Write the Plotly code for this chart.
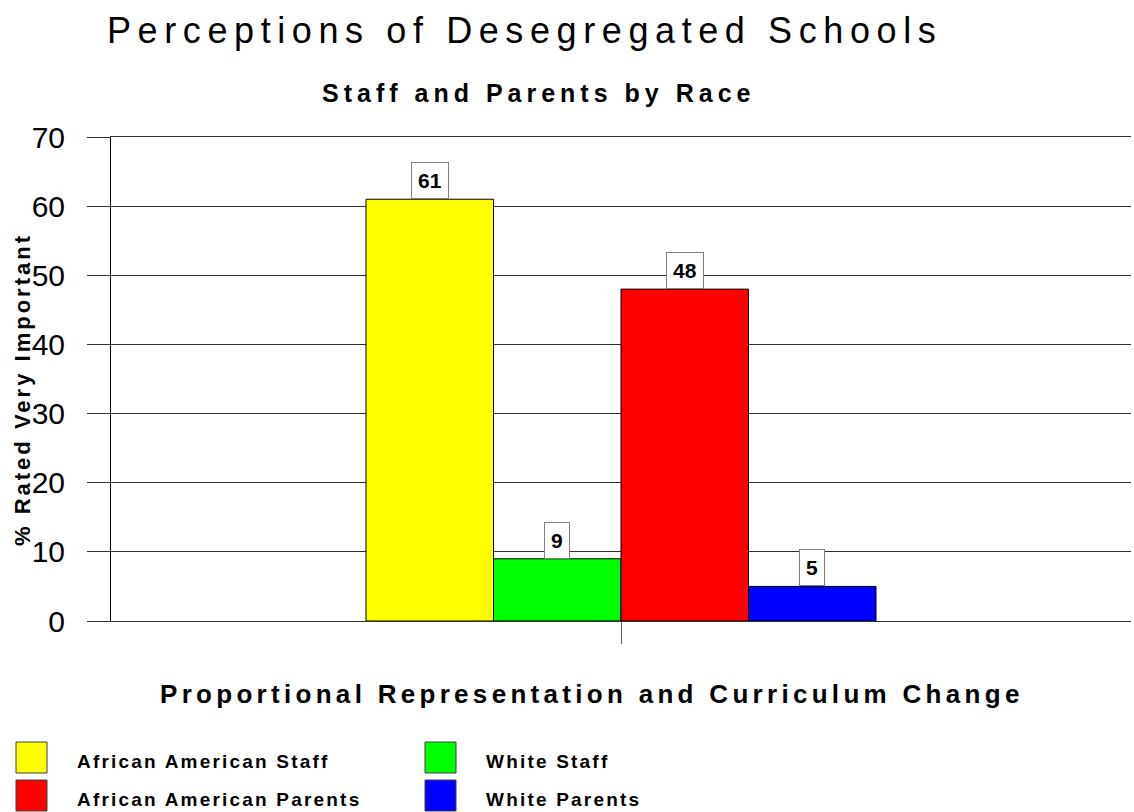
import plotly.graph_objects as go

# ---- data ----
category = ["Proportional Representation and Curriculum Change"]
series_names = ["African American Staff", "White Staff", "African American Parents", "White Parents"]
series_values = [61, 9, 48, 5]
series_colors = ["#FFFF00", "#00FF00", "#FF0000", "#0000FF"]
y_ticks = [0, 10, 20, 30, 40, 50, 60, 70]
title_text = "Perceptions of Desegregated Schools"
subtitle_text = "Staff and Parents by Race"
y_title = "% Rated Very Important"

FONT = "Liberation Sans, Arial, sans-serif"
W, H = 1134, 812
L, R, T, B = 111, 3, 137, 191
PW = W - L - R
PH = H - T - B
BARGAP = 0.5


def px(xp):
    return (xp - L) / PW


def py(yp):
    return (H - B - yp) / PH


def spaced(text, ls):
    return f'<span style="letter-spacing:{ls}px">{text}</span>'


fig = go.Figure()
for name, val, col in zip(series_names, series_values, series_colors):
    fig.add_trace(go.Bar(
        x=category, y=[val], name=name,
        marker=dict(color=col, line=dict(color="#000000", width=1)),
        showlegend=False,
    ))

annotations = []
n = len(series_names)
bw = (1 - BARGAP) / n
for i, val in enumerate(series_values):
    xc = -(1 - BARGAP) / 2 + bw * (i + 0.5)
    annotations.append(dict(
        x=xc, y=val, xref="x", yref="y", text=f"<b>{val}</b>",
        showarrow=False, yanchor="bottom", xanchor="center",
        font=dict(family=FONT, size=21, color="#000000"),
        bgcolor="#FFFFFF", bordercolor="#808080", borderwidth=1, borderpad=6,
    ))

# titles
annotations.append(dict(
    x=px(524), y=py(30), xref="paper", yref="paper", showarrow=False,
    text=spaced(title_text, 6.6), xanchor="center", yanchor="middle",
    font=dict(family=FONT, size=36, color="#000000"),
))
annotations.append(dict(
    x=px(538), y=py(93), xref="paper", yref="paper", showarrow=False,
    text="<b>" + spaced(subtitle_text, 5) + "</b>", xanchor="center", yanchor="middle",
    font=dict(family=FONT, size=25, color="#000000"),
))
annotations.append(dict(
    x=px(592), y=py(694), xref="paper", yref="paper", showarrow=False,
    text="<b>" + spaced(category[0], 4.3) + "</b>", xanchor="center", yanchor="middle",
    font=dict(family=FONT, size=26, color="#000000"),
))
annotations.append(dict(
    x=px(22), y=py(390), xref="paper", yref="paper", showarrow=False,
    text="<b>" + spaced(y_title, 3) + "</b>", xanchor="center", yanchor="middle",
    textangle=-90,
    font=dict(family=FONT, size=22, color="#000000"),
))

# legend (2 columns x 2 rows)
shapes = []
leg_cols = [16, 425]
leg_rows = [742, 780]
for i, (name, col) in enumerate(zip(series_names, series_colors)):
    cx = leg_cols[i % 2]
    ry = leg_rows[i // 2]
    shapes.append(dict(
        type="rect", xref="paper", yref="paper",
        x0=px(cx), x1=px(cx + 31), y0=py(ry + 31), y1=py(ry),
        fillcolor=col, line=dict(color="#404040", width=1),
    ))
    annotations.append(dict(
        x=px(cx + 59), y=py(ry + 19), xref="paper", yref="paper", showarrow=False,
        text="<b>" + spaced(name, 2.2) + "</b>", xanchor="left", yanchor="middle",
        font=dict(family=FONT, size=19, color="#000000"),
    ))

fig.update_layout(
    width=W, height=H,
    margin=dict(l=L, r=R, t=T, b=B),
    paper_bgcolor="#FFFFFF", plot_bgcolor="#FFFFFF",
    barmode="group", bargap=BARGAP, bargroupgap=0,
    annotations=annotations, shapes=shapes,
    showlegend=False,
    xaxis=dict(
        type="category", range=[-0.5, 0.5],
        showticklabels=False, ticks="outside", ticklen=22, tickcolor="#606060", tickwidth=1,
        showgrid=False, showline=True, linecolor="#303030", linewidth=1, mirror=True,
        zeroline=False, fixedrange=True,
    ),
    yaxis=dict(
        range=[0, 70], tickvals=y_ticks, ticktext=[str(v) for v in y_ticks],
        ticks="outside", ticklen=23, tickcolor="#303030", tickwidth=1,
        showgrid=True, gridcolor="#303030", gridwidth=1,
        showline=True, linecolor="#000000", linewidth=1,
        zeroline=False, ticklabelstandoff=16, fixedrange=True,
        tickfont=dict(family=FONT, size=30, color="#000000"),
    ),
)

fig.write_html(
    "out.html",
    config={"displayModeBar": False},
    post_script="document.body.style.margin='0';document.body.style.overflow='hidden';",
)
